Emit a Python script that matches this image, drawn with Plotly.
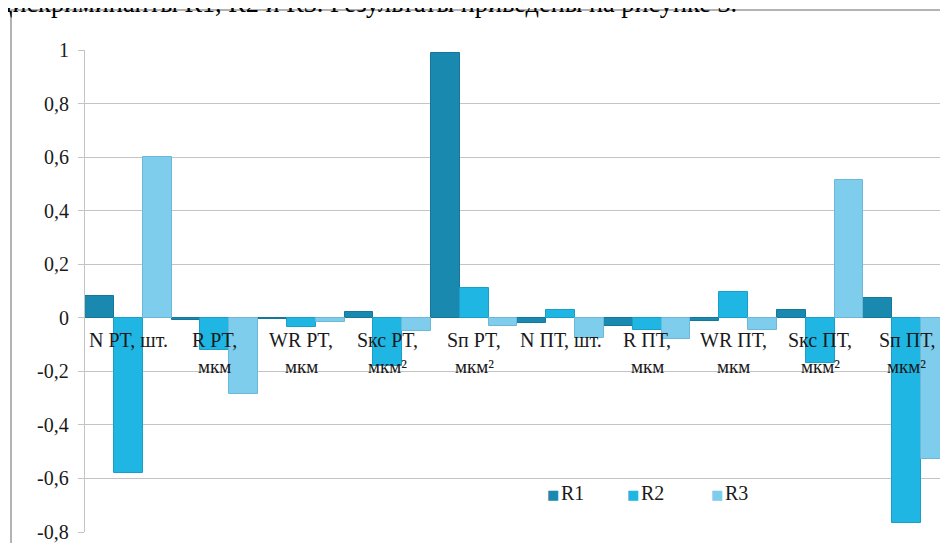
import plotly.graph_objects as go

categories = ["N PT, шт.", "R PT, мкм", "WR PT, мкм", "Sкс PT, мкм²", "Sп PT, мкм²",
              "N ПТ, шт.", "R ПТ, мкм", "WR ПТ, мкм", "Sкс ПТ, мкм²", "Sп ПТ, мкм²"]
label_line1 = ["N PT, шт.", "R PT,", "WR PT,", "Sкс PT,", "Sп PT,",
               "N ПТ, шт.", "R ПТ,", "WR ПТ,", "Sкс ПТ,", "Sп ПТ,"]
label_line2 = ["", "мкм", "мкм", "мкм²", "мкм²",
               "", "мкм", "мкм", "мкм²", "мкм²"]

r1 = [0.08, -0.01, -0.003, 0.02, 0.99, -0.02, -0.03, -0.013, 0.03, 0.073]
r2 = [-0.58, -0.12, -0.033, -0.18, 0.11, 0.03, -0.045, 0.098, -0.17, -0.765]
r3 = [0.60, -0.285, -0.017, -0.05, -0.03, -0.075, -0.08, -0.045, 0.515, -0.527]

series_names = ["R1", "R2", "R3"]
series_values = [r1, r2, r3]
series_colors = ["#1a89b0", "#1fb6e3", "#7ecdec"]
series_lines = ["#15789b", "#1aa0c8", "#6bb8d8"]

y_tickvals = [1, 0.8, 0.6, 0.4, 0.2, 0, -0.2, -0.4, -0.6, -0.8]
y_ticktext = ["1", "0,8", "0,6", "0,4", "0,2", "0", "-0,2", "-0,4", "-0,6", "-0,8"]

header_text = "дискриминанты R1, R2 и R3. Результаты приведены на рисунке 3."

FONT = "Liberation Serif"
TXT = "#1a1a1a"
PLOT_W = 863
PLOT_H = 482


def px_x(p):
    return (p - 85) / PLOT_W


def px_y(p):
    return (532 - p) / PLOT_H


fig = go.Figure()
for name, vals, col, lc in zip(series_names, series_values, series_colors, series_lines):
    fig.add_trace(go.Bar(
        x=categories, y=vals, name=name, showlegend=False,
        marker=dict(color=col, line=dict(color=lc, width=1)),
    ))

annotations = []
for cat, l1, l2 in zip(categories, label_line1, label_line2):
    annotations.append(dict(x=cat, y=0, xref="x", yref="y", text=l1, showarrow=False,
                            yanchor="middle", yshift=-22, font=dict(family=FONT, size=20, color=TXT)))
    if l2:
        annotations.append(dict(x=cat, y=0, xref="x", yref="y", text=l2, showarrow=False,
                                yanchor="middle", yshift=-49, font=dict(family=FONT, size=19, color=TXT)))

for v, t in zip(y_tickvals, y_ticktext):
    annotations.append(dict(x=0, y=v, xref="paper", yref="y", text=t, showarrow=False,
                            xanchor="right", yanchor="middle", xshift=-14,
                            font=dict(family=FONT, size=20, color=TXT)))

legend_x = [553, 633, 717]
for name, col, lx in zip(series_names, series_colors, legend_x):
    annotations.append(dict(x=px_x(lx), y=px_y(494), xref="paper", yref="paper",
                            text=f'<span style="color:{col}">■</span>', showarrow=False,
                            xanchor="center", yanchor="middle",
                            font=dict(family="DejaVu Sans", size=13, color=col)))
    annotations.append(dict(x=px_x(lx + 6), y=px_y(493), xref="paper", yref="paper",
                            text=name, showarrow=False, xanchor="left", yanchor="middle",
                            font=dict(family=FONT, size=20, color=TXT)))

annotations.append(dict(x=px_x(-3), y=1.105 - 4 / PLOT_H, xref="paper", yref="paper", text=header_text,
                        showarrow=False, xanchor="left", yanchor="middle",
                        font=dict(family=FONT, size=26.3, color="#000000")))

frame_color = "#9a9a9a"
fx = px_x(11)
fy = px_y(10)

fig.update_layout(
    width=940, height=535,
    margin=dict(l=77, r=0, t=42, b=11),
    paper_bgcolor="white", plot_bgcolor="white",
    barmode="group", bargap=0, bargroupgap=0,
    font=dict(family=FONT, size=20, color=TXT),
    showlegend=False,
    annotations=annotations,
    shapes=[
        dict(type="line", xref="paper", yref="paper", x0=fx, x1=fx, y0=-0.1, y1=fy,
             line=dict(color=frame_color, width=1.5), layer="above"),
        dict(type="line", xref="paper", yref="paper", x0=fx, x1=1.1, y0=fy, y1=fy,
             line=dict(color=frame_color, width=1.5), layer="above"),
    ],
)
fig.update_xaxes(range=[-0.5, 9.477], showticklabels=False, showgrid=False,
                 zeroline=False, showline=False, ticks="")
fig.update_yaxes(range=[-0.8, 1], tickvals=y_tickvals, showticklabels=False,
                 showgrid=True, gridcolor="#c4c4c4", gridwidth=1,
                 zeroline=True, zerolinecolor="#c4c4c4", zerolinewidth=1,
                 showline=True, linecolor="#c4c4c4", linewidth=1,
                 ticks="outside", ticklen=6, tickcolor="#c4c4c4")

fig.write_html("out.html")
